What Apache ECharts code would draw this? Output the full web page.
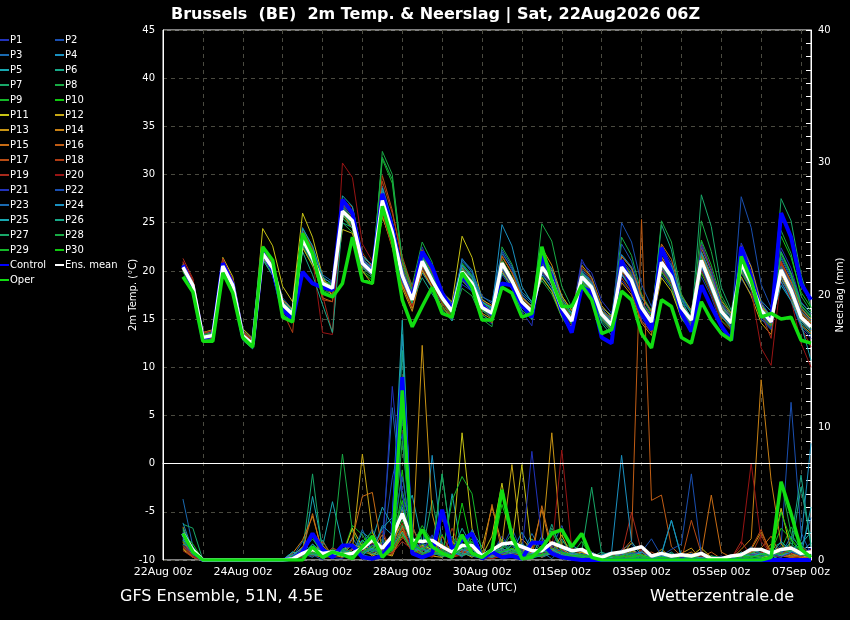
<!DOCTYPE html>
<html><head><meta charset="utf-8">
<script src="https://cdn.jsdelivr.net/npm/echarts@6/dist/echarts.min.js"></script>
<style>html,body{margin:0;padding:0;background:#000;}#c{width:850px;height:620px;}</style>
</head><body><div id="c"></div>
<script>
// forecast hours since 22Aug 00z
const HOURS = [12,18,24,30,36,42,48,54, 60,66,72,78,84,90,96,102, 108,114,120,126,132,138,144,150, 156,162,168,174,180,186,192,198, 204,210,216,222,228,234,240,246, 252,258,264,270,276,282,288,294, 300,306,312,318,324,330,336,342, 348,354,360,366,372,378,384,390];
const X_TICK_LABELS = ['22Aug 00z','24Aug 00z','26Aug 00z','28Aug 00z','30Aug 00z','01Sep 00z','03Sep 00z','05Sep 00z','07Sep 00z'];
const MEMBER_NAMES = ['P1','P2','P3','P4','P5','P6','P7','P8','P9','P10','P11','P12','P13','P14','P15','P16','P17','P18','P19','P20','P21','P22','P23','P24','P25','P26','P27','P28','P29','P30'];
const MEMBER_COLORS = ['#2233bb','#1a4fb0','#1a6ab0','#1a90c0','#18a8b0','#18a888','#18a868','#18aa44','#14b828','#10c810','#c8c414','#c8a814','#c89414','#c88014','#c86c14','#c05c14','#b84c14','#b03c14','#a82a1c','#981414','#2233bb','#1a4fb0','#1a6ab0','#1a90c0','#18a8b0','#18a888','#18a868','#18aa44','#14b828','#10c810'];

// 2m temperature (°C)
const T_P1 = [20.8,18.3,13.0,13.6,20.9,18.8,13.5,12.2, 22.4,20.6,16.2,15.1,24.0,22.1,18.3,17.5, 27.2,25.8,21.5,19.2,28.1,24.6,20.4,17.8, 22.5,19.9,17.0,14.8,18.6,17.9,15.2,14.5, 19.6,18.1,15.8,14.3,21.8,20.2,17.0,15.2, 21.2,19.3,15.8,14.2,19.0,17.8,14.9,13.6, 22.6,20.8,17.2,15.6,19.4,17.3,14.4,13.1, 22.9,20.5,16.8,15.2,18.8,16.9,14.1,13.0];
const T_P2 = [20.1,18.7,13.3,13.0,20.2,18.2,13.0,12.6, 21.3,19.9,16.9,15.9,22.6,20.8,19.2,18.8, 25.4,24.7,20.2,20.3,26.8,23.5,18.9,16.4, 20.2,18.3,16.6,15.9,21.3,19.8,17.4,16.6, 22.0,20.1,17.5,16.2,19.2,18.0,15.4,14.2, 18.2,17.4,14.9,14.6,22.8,21.0,17.3,15.5, 19.6,18.2,15.4,14.8,23.0,20.0,16.4,14.8, 19.2,17.6,15.4,14.9,21.5,19.4,16.2,15.0];
const T_P3 = [20.6,18.9,13.5,13.7,21.1,19.0,13.8,12.9, 22.0,20.9,17.2,16.0,24.5,22.5,19.3,18.0, 26.9,25.9,21.2,20.4,28.8,25.2,20.2,17.5, 21.6,19.6,17.9,16.5,20.7,19.6,17.1,16.2, 21.8,20.3,17.6,16.6,19.8,18.2,15.6,14.0, 20.2,18.9,15.7,14.8,21.6,20.2,16.9,15.1, 22.1,20.6,17.0,15.6,20.0,17.9,15.2,14.3, 19.8,18.0,15.0,13.9,21.3,19.2,16.3,15.4];
const T_P4 = [20.2,18.3,12.8,13.1,20.6,18.6,13.1,12.1, 21.5,20.1,16.0,15.3,23.8,21.8,18.9,18.4, 26.6,25.4,21.0,20.1,27.9,24.5,19.8,17.2, 19.8,18.2,16.8,15.4,21.2,20.1,16.8,16.0, 20.3,18.8,17.1,16.4,19.6,18.3,16.0,14.6, 20.0,18.7,16.1,15.0,21.7,20.4,17.2,15.9, 21.4,19.9,16.7,15.2,20.3,18.2,15.6,14.8, 21.8,19.6,16.9,15.8,18.9,17.0,14.3,13.3];
const T_P5 = [20.5,18.6,13.2,13.5,20.4,18.4,13.2,12.3, 21.9,20.4,16.8,15.9,23.6,21.6,18.6,17.9, 26.0,25.0,21.4,20.6,26.9,23.6,19.0,16.8, 21.4,19.2,17.5,16.0,20.4,19.2,16.6,15.9, 20.1,18.6,16.2,15.0,21.2,19.9,16.8,15.5, 19.8,18.8,16.2,15.4,20.1,18.6,15.6,14.0, 20.4,18.8,15.7,14.3,22.0,19.6,16.7,15.4, 21.4,19.3,16.2,14.6,19.4,17.5,14.6,13.7];
const T_P6 = [20.3,18.4,13.1,13.2,20.5,18.5,13.4,12.5, 21.6,20.0,16.3,15.0,22.8,20.9,17.9,17.4, 25.7,24.8,20.3,19.5,27.0,23.8,19.3,16.6, 20.6,18.8,16.9,15.6,19.5,18.4,15.9,15.1, 20.9,19.1,16.4,15.3,20.6,19.3,16.1,14.4, 18.6,17.6,14.6,13.3,20.8,19.6,16.6,14.8, 21.9,20.5,17.3,15.9,21.8,19.2,16.2,14.9, 20.2,18.3,15.6,14.4,20.6,18.6,15.8,14.7];
const T_P7 = [20.4,18.4,13.2,13.4,20.3,18.3,13.0,12.0, 21.7,20.2,16.6,15.7,23.0,21.0,18.8,18.5, 26.3,25.1,20.6,19.6,27.6,24.2,19.6,17.3, 21.2,19.1,17.3,16.1,19.7,18.5,16.0,15.4, 20.6,18.9,16.9,15.8,20.2,18.9,16.3,15.0, 19.2,18.0,15.2,14.1,20.5,19.1,16.4,14.9, 20.8,19.1,15.9,14.6,21.3,18.8,16.0,14.7, 20.9,18.8,16.0,14.8,20.0,17.9,15.1,14.0];
const T_P8 = [19.9,18.0,12.7,12.9,20.7,18.9,13.6,12.7, 21.2,19.6,16.0,15.2,22.9,21.7,18.5,18.1, 25.0,24.0,20.0,19.3,32.4,30.0,21.0,18.5, 23.0,20.9,16.4,15.0,18.2,17.4,15.0,14.2, 22.5,20.7,17.8,16.9,19.0,17.6,15.2,13.6, 19.0,18.1,15.8,15.2,23.5,21.6,17.6,15.8, 20.0,18.4,15.0,13.8,25.2,22.0,17.5,15.6, 20.5,18.5,15.8,14.6,24.2,21.8,17.4,15.8];
const T_P9 = [20.6,18.7,13.4,13.5,20.8,18.7,13.4,12.4, 22.1,20.5,16.7,15.6,23.5,21.5,19.0,18.6, 26.5,25.5,21.1,20.2,31.6,29.1,20.6,17.9, 21.9,19.8,17.6,16.2,20.2,18.9,16.4,15.5, 20.5,18.8,16.5,15.6,20.9,19.6,16.9,15.3, 19.6,18.5,15.9,14.9,19.8,18.4,15.3,14.0, 19.9,18.4,15.4,14.2,23.2,20.6,17.1,15.5, 20.1,18.2,15.3,14.1,21.8,19.6,16.4,15.2];
const T_P10 = [20.0,18.2,12.9,13.2,20.0,18.1,12.9,12.2, 21.4,19.8,16.1,15.3,22.5,20.5,18.0,17.6, 25.5,24.4,19.9,19.0,26.5,23.2,18.8,16.5, 20.8,18.7,16.8,15.3,20.8,19.5,16.7,16.1, 21.2,19.4,17.0,16.0,19.4,17.9,15.2,14.1, 19.5,18.2,15.3,14.2,21.0,19.7,16.8,15.4, 20.6,19.0,15.8,14.4,19.8,17.6,14.9,13.9, 20.4,18.3,15.5,14.4,20.4,18.3,15.6,14.6];
const T_P11 = [20.7,18.8,13.6,13.9,21.4,19.4,14.0,13.0, 24.4,22.6,18.4,16.8,26.0,23.5,19.5,17.2, 24.3,23.9,20.4,19.9,25.6,22.8,18.6,16.2, 20.4,18.6,17.8,16.8,23.6,21.4,17.0,16.4, 19.8,18.5,16.6,15.7,21.4,20.0,17.4,15.9, 18.9,17.9,15.1,14.0,19.6,18.3,15.4,14.3, 19.3,17.9,15.1,14.0,20.7,18.4,15.6,14.4, 22.0,19.9,16.5,14.9,19.6,17.6,14.8,13.9];
const T_P12 = [20.2,18.3,12.9,13.1,20.2,18.3,13.1,12.2, 21.4,19.9,16.4,15.6,22.4,20.6,18.3,17.9, 25.8,24.8,20.5,19.5,26.6,23.4,18.9,16.3, 20.0,18.3,16.2,15.1,19.2,18.2,15.6,15.0, 21.5,19.8,17.3,16.3,19.3,17.9,15.3,14.2, 20.6,19.3,16.4,15.2,20.2,18.8,15.8,14.2, 20.3,18.7,15.5,14.2,21.5,19.1,16.3,15.2, 19.4,17.4,14.6,13.4,20.9,18.9,16.1,15.0];
const T_P13 = [20.5,18.6,13.3,13.6,20.6,18.6,13.6,12.7, 22.2,20.7,17.0,16.0,23.9,21.9,19.1,18.3, 25.9,24.4,20.0,18.6,25.8,22.4,18.2,15.8, 20.1,18.4,17.0,15.9,20.3,19.0,16.6,15.8, 20.0,18.4,16.4,15.4,22.4,20.6,17.4,15.9, 19.7,18.6,15.6,14.3,18.8,17.5,14.6,13.3, 21.5,19.9,16.5,15.1,20.9,18.6,15.7,14.5, 22.6,20.4,16.6,15.1,19.2,17.3,14.4,13.5];
const T_P14 = [20.3,18.5,13.0,13.2,20.4,18.5,13.3,12.5, 21.8,20.2,16.4,15.4,23.2,21.4,18.6,18.0, 26.4,25.4,21.0,19.8,26.2,22.9,18.5,16.1, 20.5,18.7,17.4,16.3,19.8,18.8,16.3,15.7, 20.8,19.2,16.8,15.9,20.5,19.1,16.2,14.7, 19.3,18.2,15.4,14.6,20.6,19.4,16.7,15.2, 21.0,19.4,16.0,14.6,22.4,20.0,16.9,15.6, 21.1,19.1,16.3,15.0,19.8,17.7,14.9,13.8];
const T_P15 = [20.9,19.0,13.6,13.8,21.0,19.1,13.8,12.8, 22.3,20.7,16.3,15.0,23.7,21.2,17.2,16.8, 27.0,26.0,21.6,20.5,28.0,24.8,20.1,17.6, 21.3,19.3,17.6,16.4,20.0,18.6,16.1,15.3, 20.3,18.6,16.3,15.5,21.0,19.7,16.6,15.2, 19.4,18.4,15.8,15.0,21.5,20.3,17.4,15.7, 22.8,21.2,17.5,15.9,21.6,19.2,16.5,15.1, 21.2,19.0,15.9,14.5,20.3,18.2,15.4,14.4];
const T_P16 = [20.1,18.2,12.9,13.0,20.3,18.4,13.2,12.3, 21.7,20.1,16.7,15.8,22.9,21.2,18.7,18.3, 26.1,25.0,20.7,19.9,27.2,23.9,19.4,16.9, 21.0,18.9,17.1,15.7,20.1,18.8,16.3,15.6, 20.9,19.2,16.9,15.9,20.0,18.6,16.0,14.6, 19.1,17.9,15.0,13.9,20.0,18.6,15.6,14.5, 20.4,18.9,15.7,14.5,21.0,18.5,15.3,14.0, 20.6,18.6,16.1,15.1,20.8,18.7,15.7,14.6];
const T_P17 = [20.6,18.7,13.4,13.4,20.6,18.5,13.2,12.4, 21.9,20.4,16.5,15.4,23.4,21.4,18.4,17.6, 26.8,25.6,21.3,19.9,29.9,26.3,20.9,18.0, 22.2,20.2,16.6,15.2,19.0,18.0,15.5,14.6, 21.6,19.8,17.2,16.1,20.7,19.4,16.5,15.0, 19.9,18.8,15.9,14.9,20.3,18.9,16.0,14.6, 21.2,19.6,16.3,15.0,20.5,18.0,15.2,14.3, 20.0,18.1,15.3,14.3,21.0,18.8,15.9,14.8];
const T_P18 = [20.7,18.9,13.5,13.8,20.9,18.9,13.7,12.8, 22.3,20.6,15.8,13.6,24.1,22.3,17.0,16.8, 27.4,26.6,21.9,20.3,29.3,26.0,21.5,18.3, 21.8,19.8,17.7,16.2,19.6,18.5,16.0,15.2, 20.4,18.6,16.7,16.0,21.3,19.9,17.1,15.6, 20.4,19.1,16.2,14.8,19.3,17.8,14.8,13.6, 20.1,18.6,15.6,14.5,21.9,19.5,16.6,15.3, 19.9,18.2,15.4,14.2,20.6,18.5,15.6,14.5];
const T_P19 = [21.3,19.2,13.6,13.8,21.3,19.1,13.6,12.7, 22.6,21.0,16.9,15.6,24.2,22.4,17.5,13.5, 26.4,25.3,20.8,19.6,27.0,23.8,19.3,16.8, 20.7,18.7,17.1,15.9,19.9,18.7,16.2,15.7, 21.1,19.3,16.8,15.6,19.9,18.6,15.9,14.4, 19.6,18.4,15.3,14.3,20.9,19.6,16.4,15.0, 20.7,19.2,16.0,14.9,22.7,20.2,16.2,14.3, 21.5,19.4,15.6,13.0,21.0,18.3,14.2,12.1];
const T_P20 = [21.0,19.0,13.4,13.5,21.0,19.0,13.5,12.6, 22.0,20.5,16.6,15.4,23.0,21.3,13.6,13.4, 31.2,29.7,22.8,21.0,26.0,22.5,18.8,16.3, 20.4,18.5,16.7,15.5,20.5,19.3,16.9,16.3, 20.7,19.0,16.6,15.5,20.6,19.1,16.6,15.1, 19.2,18.0,15.0,13.8,19.8,18.4,15.5,14.2, 21.3,19.8,16.4,14.8,20.1,17.6,14.8,13.8, 21.8,18.0,12.0,10.2,19.5,17.0,12.5,10.0];
const T_P21 = [20.2,18.4,13.1,13.4,20.5,18.4,13.2,12.3, 21.6,20.0,16.5,15.6,23.1,21.1,18.5,18.0, 26.0,25.1,20.9,20.0,27.2,23.9,19.4,16.9, 20.9,18.9,17.2,15.9,19.5,18.4,16.1,15.6, 20.2,18.5,16.2,15.1,19.9,18.6,16.2,14.9, 20.9,19.8,16.9,15.6,21.2,19.9,16.8,15.0, 20.5,18.9,15.8,14.6,22.6,20.1,16.6,15.1, 20.3,18.4,15.2,14.0,22.4,20.3,16.8,15.6];
const T_P22 = [20.5,18.5,13.2,13.3,20.6,18.6,13.3,12.4, 21.7,20.1,16.4,15.3,23.2,21.3,18.8,18.3, 26.3,25.2,20.7,19.7,27.4,24.1,19.6,17.1, 21.1,19.1,17.3,15.9,20.0,18.8,16.3,15.7, 20.9,19.1,16.9,15.9,20.5,19.1,16.3,14.9, 19.6,18.5,15.6,14.5,25.0,23.0,18.6,16.3, 20.2,18.8,15.6,14.3,20.4,18.0,15.4,14.3, 27.7,24.5,18.6,16.2,20.0,17.9,15.0,13.9];
const T_P23 = [20.4,18.6,13.3,13.5,20.3,18.3,13.1,12.2, 22.0,20.5,16.8,15.8,24.0,22.0,19.6,18.9, 26.7,25.7,21.0,20.2,28.3,25.0,20.0,17.6, 21.5,19.5,17.8,16.6,21.0,19.9,17.3,16.8, 22.2,20.5,17.8,16.8,20.8,19.3,16.5,15.1, 19.9,18.9,16.1,15.0,19.6,18.1,15.2,13.8, 21.8,20.3,17.1,15.8,20.5,18.3,15.4,14.1, 21.0,18.9,16.0,14.9,20.5,18.6,15.8,14.9];
const T_P24 = [20.3,18.4,13.0,13.2,20.4,18.5,13.4,12.6, 21.9,20.3,16.6,15.6,23.5,21.6,18.7,18.1, 26.4,25.3,21.2,20.3,26.4,23.1,18.9,16.7, 21.2,19.3,17.6,16.3,20.6,19.4,16.8,16.1, 24.8,22.6,18.4,16.7,20.3,18.9,16.3,15.0, 19.1,18.0,15.1,14.1,19.7,18.2,15.6,14.6, 20.6,19.1,16.1,14.9,20.8,18.4,15.9,14.7, 20.7,18.8,16.1,15.2,19.3,17.4,14.8,13.9];
const T_P25 = [20.4,18.5,13.1,13.4,20.5,18.5,13.3,12.4, 21.8,20.2,16.5,15.5,24.4,22.6,19.4,18.6, 27.8,26.7,21.6,20.6,28.6,25.0,19.5,17.0, 21.3,19.2,17.5,16.2,20.6,19.3,16.8,16.2, 20.6,19.0,16.6,15.6,21.6,20.2,17.2,15.6, 19.8,18.7,15.8,14.8,20.5,19.1,16.3,14.8, 21.1,19.6,16.3,15.0,21.9,19.4,16.4,15.2, 21.2,19.2,16.1,14.8,18.5,16.9,14.5,10.7];
const T_P26 = [20.2,18.2,12.7,12.9,20.2,18.2,12.8,11.9, 21.2,19.5,15.5,14.8,22.0,19.6,16.5,13.6, 25.0,24.5,20.6,20.0,26.6,23.5,19.3,16.9, 19.3,17.6,16.0,14.8,19.0,17.9,15.4,14.8, 19.8,18.3,15.9,15.0,20.1,18.8,16.0,14.6, 18.8,17.7,14.8,13.7,20.8,19.5,16.5,14.8, 24.8,22.2,17.0,15.0,20.8,18.0,15.3,14.2, 21.4,19.4,16.5,15.3,22.0,19.8,16.7,15.6];
const T_P27 = [20.6,18.8,13.4,13.5,20.6,18.6,13.3,12.4, 22.1,20.6,16.8,15.8,23.4,21.4,18.9,18.4, 25.8,24.9,20.6,19.8,27.5,24.4,19.7,17.2, 20.6,18.8,17.0,15.6,20.2,19.0,16.4,15.7, 20.4,18.7,16.5,15.6,21.0,19.6,16.5,15.0, 19.8,18.4,15.4,14.3,20.6,19.2,16.3,14.9, 20.6,19.0,15.8,14.5,27.9,24.6,18.3,15.9, 20.9,18.9,16.1,14.9,27.5,25.2,19.6,16.2];
const T_P28 = [20.5,18.6,13.2,13.3,20.5,18.4,13.1,12.2, 21.8,20.3,16.5,15.6,23.1,21.1,18.6,18.2, 25.9,24.9,20.5,19.6,31.8,29.5,21.2,18.0, 21.6,19.6,17.3,15.7,19.6,18.4,16.0,15.3, 21.0,19.2,16.6,15.4,24.9,23.1,18.4,16.2, 19.0,17.8,15.0,13.9,20.2,18.7,15.9,14.6, 25.2,23.0,17.6,15.6,21.3,18.9,16.0,14.7, 20.0,18.1,15.4,14.3,21.9,19.7,16.5,15.3];
const T_P29 = [20.4,18.5,13.1,13.3,20.4,18.4,13.1,12.2, 21.6,20.0,16.3,15.4,23.0,21.0,18.3,17.8, 26.0,25.0,20.7,19.7,27.0,23.7,19.2,16.8, 20.7,18.7,16.9,15.5,19.7,18.6,16.0,15.4, 20.6,18.9,16.7,15.7,20.3,18.9,16.0,14.5, 19.3,18.3,15.6,14.6,20.4,19.0,16.2,14.7, 20.7,19.1,16.0,14.8,21.0,18.4,15.6,14.5, 20.5,18.5,15.7,14.6,19.8,17.8,15.0,14.1];
const T_P30 = [20.6,18.7,13.3,13.5,20.6,18.6,13.4,12.5, 22.0,20.4,16.6,15.6,23.4,21.4,18.8,18.3, 26.3,25.3,20.9,19.9,27.4,24.1,19.6,17.1, 21.1,19.1,17.3,15.9,20.0,18.8,16.3,15.7, 20.9,19.1,16.9,15.9,20.5,19.1,16.3,14.9, 19.5,18.4,15.6,14.5,20.5,19.1,16.3,14.8, 21.0,19.5,16.3,15.0,21.2,18.6,15.9,14.7, 20.9,18.8,16.0,14.8,23.6,21.4,17.8,16.2];
const T_CONTROL = [20.6,18.3,13.0,13.3,20.8,18.6,13.2,12.3, 21.9,20.1,16.0,15.0,19.9,18.7,18.3,18.0, 27.4,26.0,20.8,19.8,28.0,24.5,19.4,17.2, 22.0,20.4,17.7,16.0,19.5,18.2,16.4,15.5, 18.7,18.5,16.5,15.2,21.5,19.4,15.8,13.6, 18.3,17.8,13.1,12.5,21.1,18.3,15.6,13.9, 22.4,19.8,15.6,13.7,18.5,16.3,14.3,12.8, 22.5,19.4,15.8,14.7,26.0,23.5,18.7,17.0];
const T_OPER = [19.4,17.8,12.7,12.7,19.8,17.7,13.1,12.1, 22.5,21.1,15.2,14.7,23.9,21.8,17.7,17.3, 18.7,23.5,19.0,18.7,26.7,23.2,17.0,14.2, 16.3,18.3,15.6,15.2,19.8,18.3,14.9,14.9, 18.3,17.7,15.2,15.6,22.5,19.0,16.3,16.3, 18.5,17.0,13.5,13.9,17.9,17.0,13.5,12.0, 17.0,16.3,13.1,12.5,16.8,14.9,13.5,12.8, 21.5,19.0,15.2,15.6,15.0,15.2,12.8,12.5];
const T_MEAN = [20.4,18.5,13.1,13.3,20.5,18.5,13.3,12.4, 21.8,20.3,16.5,15.5,23.3,21.3,18.7,18.2, 26.2,25.2,20.8,19.8,27.3,24.0,19.5,17.0, 21.0,19.0,17.2,15.8,19.9,18.7,16.2,15.6, 20.8,19.0,16.8,15.8,20.4,19.0,16.2,14.8, 19.4,18.3,15.5,14.4,20.4,19.0,16.2,14.7, 20.9,19.4,16.2,14.9,21.1,18.5,15.8,14.6, 20.8,18.7,15.9,14.7,20.1,18.0,15.2,14.2];

// precipitation (mm, right axis)
const R_P1 = [1.2,0.3,0,0,0,0,0,0, 0,0,0,0,0.4,1.2,0.6,0.2, 0.1,0.8,1.5,0.6,0.2,2.1,4.2,0.6, 0.8,1.9,0.4,0.1,0.9,1.6,0.2,0.5, 1.8,0.7,0.3,0.2,1.0,2.1,0.8,0.1, 0.4,0,0,0.2,0.6,0.3,0.1,0, 0.2,0.5,0,0,0.3,0,0,0.4, 0.1,0.3,0.8,0,0.2,0.9,0.3,0.1];
const R_P2 = [1.8,0.5,0,0,0,0,0,0, 0,0,0,0.3,0.9,0.4,0,0.6, 0.3,0.2,1.1,2.3,0.8,6.2,9.5,0.9, 2.2,0.6,0.3,0.8,0.2,1.4,0,0.3, 0.9,2.4,0.6,0.1,0.4,0.9,2.6,0.7, 0.2,0.5,0,0,0.3,0.8,0.2,0, 0,0.3,0.1,0,0.6,0,0,0.2, 0,0.5,0.2,0.4,1.1,11.9,2.1,0.4];
const R_P3 = [4.6,1.0,0,0,0,0,0,0, 0,0,0,0.2,1.4,0.5,0.3,0.9, 0.5,1.7,0.4,0.2,1.3,11.5,4.8,2.6, 0.8,1.2,0.5,1.8,0.7,0.3,0.1,0.6, 1.5,0.3,0.4,2.0,0.6,0.1,0.9,0.3, 0.5,0.2,0.1,0,0.8,1.2,0.4,0, 0.3,0,0.2,0.5,0,0.1,0,0, 0.4,0,0.2,0.6,0.3,0.8,1.1,0.5];
const R_P4 = [2.3,0.6,0,0,0,0,0,0, 0,0,0,0.1,0.3,1.9,0.4,0.2, 0.8,0.5,1.2,0.6,2.6,1.9,17.0,1.4, 0.6,7.9,1.1,0.4,0.3,2.2,1.0,0.2, 0.4,0.6,2.1,0.8,0.2,0.5,0.3,1.1, 0.7,0.1,0,0.3,0.6,0.2,0,0.1, 0,0.2,0.5,0.1,0,0,0.2,0, 0.3,0.7,0.1,0,0.4,0.2,0.6,1.3];
const R_P5 = [1.5,0.4,0,0,0,0,0,0, 0,0,0,0.6,0.2,4.8,1.0,4.4, 1.2,0.4,2.1,1.5,4.0,2.6,3.1,4.9, 1.3,0.7,0.2,5.0,0.6,1.1,0.4,0.2, 0.6,1.1,0.4,0.3,1.8,0.5,1.6,0.4, 0.2,0.4,0.1,0.6,0.3,0.9,0.3,0, 0.4,3.0,0.2,0,0.1,0,0,0, 0.2,0.5,0.8,0.3,0.6,0.4,1.2,2.1];
const R_P6 = [1.9,0.7,0,0,0,0,0,0, 0,0,0,0.2,0.8,0.3,1.5,0.2, 0.6,0.3,0.9,1.6,0.4,1.7,15.8,0.8, 0.4,1.0,0.2,0.6,2.4,1.0,0.3,0.5, 0.3,0.9,0.4,1.6,0.4,2.7,0.6,0.2, 0.4,0.3,0,0.1,0.5,0.2,0.3,0, 0,0.1,0,0.4,0,0.2,0,0, 0.3,0.1,0.2,0,0.5,1.4,6.4,1.0];
const R_P7 = [2.7,2.4,0,0,0,0,0,0, 0,0,0,0.4,0.6,6.5,0.5,0.3, 0.8,0.6,0.3,1.1,0.9,2.0,2.4,1.4, 0.6,4.5,0.8,0.3,1.3,0.4,0.2,0.5, 1.6,0.5,1.3,0.4,0.5,2.4,0.9,0.3, 0.6,5.5,0.5,0.2,0.1,0.4,0.6,0.3, 0.1,0,0.3,0,0.2,0,0,0, 0.3,0.4,0.2,0.9,1.3,0.6,0.2,0.4];
const R_P8 = [1.0,0.3,0,0,0,0,0,0, 0,0,0,0,0.3,0.7,0.2,0.5, 8.0,2.2,0.6,0.4,1.6,0.8,5.2,2.3, 1.4,0.3,6.5,0.8,0.4,0.9,0.3,0.2, 0.9,2.0,0.5,0.7,0.8,0.4,1.4,0.9, 0.3,0.2,0.4,0,0.2,0.3,0,0.2, 0,0.5,0.1,0,0,0.3,0.1,0, 0.2,0.6,0.9,0.2,0.4,0.3,0.8,0.5];
const R_P9 = [2.2,0.9,0,0,0,0,0,0, 0,0,0,0.2,0.6,1.8,0.3,0.8, 0.4,2.6,1.9,0.7,0.3,1.2,3.0,1.1, 2.6,1.4,0.5,1.1,0.8,1.6,0.2,0.9, 0.5,1.2,0.8,0.3,1.1,0.6,0.3,0.4, 1.4,0.2,0,0.3,0.2,0.1,0.4,0, 0.3,0,0.2,0.1,0,0,0,0.2, 0,0.3,0.5,0.1,0.8,2.5,1.1,0.4];
const R_P10 = [2.0,1.2,0,0,0,0,0,0, 0,0,0,0,0.5,0.3,0.9,0.3, 0.7,0.2,1.4,2.1,0.6,0.9,6.8,0.4, 1.2,0.6,1.9,0.3,4.3,0.9,0.1,0.4, 4.2,1.8,0.6,0.4,0.9,1.3,0.5,0.2, 0.4,0.6,0,0.1,0.3,0.5,0.2,0.1, 0.2,0,0,0.3,0.1,0,0.2,0, 0.5,0.2,0.3,0.6,2.4,1.6,0.7,0.3];
const R_P11 = [0.8,0.2,0,0,0,0,0,0, 0,0,0,0.3,0.4,0.9,0.2,0.6, 0.3,2.4,1.0,0.4,0.8,1.5,2.7,0.5, 1.1,0.8,0.4,0.6,9.6,2.4,0.3,1.8, 5.8,1.2,7.2,0.7,0.3,0.8,0.5,0.2, 0.6,0.3,0.1,0.2,0.5,0.8,0.3,0.1, 0.2,0.1,0,0.3,0.9,0.2,0,0, 0.1,0.4,0.2,0.3,3.9,0.7,0.3,0.2];
const R_P12 = [1.3,0.5,0,0,0,0,0,0, 0,0,0,0.1,0.3,0.6,1.1,0.4, 0.2,0.8,8.0,2.1,0.5,0.3,2.2,0.9, 0.6,0.3,0.2,1.4,0.6,0.2,0.9,4.0, 1.2,7.2,0.8,0.5,0.4,0.6,1.9,0.3, 0.2,0.4,0,0,0.3,1.3,0.6,0.2, 0.8,0.2,0.3,0,0.1,0.3,0,0, 0.2,0.6,0.4,1.2,0.5,0.3,0.2,0.7];
const R_P13 = [1.6,0.4,0,0,0,0,0,0, 0,0,0,0.3,1.0,0.4,0.2,0.3, 0.4,1.2,0.9,0.3,0.6,1.8,2.0,0.7, 16.2,3.5,0.4,0.2,1.0,0.6,0.1,0.3, 0.4,0.8,0.6,0.3,1.1,9.6,0.8,0.4, 0.6,0.2,0.2,0.4,0.3,0.6,0.3,0, 0,0.2,0.5,0.9,0,0.2,0.1,0, 0.3,0.8,2.1,0.6,0.9,0.4,0.3,0.6];
const R_P14 = [2.5,0.6,0,0,0,0,0,0, 0,0,0,0.5,1.5,3.3,0.6,0.2, 0.6,0.4,1.1,0.8,1.9,0.6,3.8,1.2, 0.7,1.5,0.6,0.3,0.8,0.5,0.3,0.4, 0.9,0.4,1.6,0.8,3.8,0.6,0.2,0.4, 0.3,0.6,0.2,0,0.1,0.7,0.3,0.4, 0.1,0,0.3,0.6,0,0.2,0,0.1, 0.8,1.6,13.6,6.0,1.2,0.5,0.2,0.1];
const R_P15 = [1.4,0.3,0,0,0,0,0,0, 0,0,0,0.2,0.8,3.5,0.4,0.6, 0.3,1.6,4.8,5.1,0.7,0.5,2.5,0.8, 0.5,0.9,1.2,0.4,0.6,0.8,0.2,4.2, 0.6,0.3,0.5,0.2,4.1,0.9,0.6,0.3, 0.2,0.5,0.3,0.1,0.4,0.6,0.2,0, 0,0.3,0.1,0,0.4,4.9,0.6,0.2, 0.4,0.6,0.9,1.8,0.3,0.2,0.4,0.6];
const R_P16 = [1.1,0.2,0,0,0,0,0,0, 0,0,0,0.1,0.4,0.9,0.3,0.2, 0.6,0.3,1.0,1.6,0.5,0.4,1.8,0.6, 1.0,0.7,0.5,0.3,0.4,1.2,0.3,0.2, 0.5,0.9,0.3,0.6,0.2,0.8,0.4,0.2, 0.3,0.2,0,0.1,0.6,1.5,25.7,4.5, 4.9,1.0,0.3,0,0.2,0.6,0.1,0, 0.3,0.5,0.2,0.9,0.4,0.2,0.1,0.3];
const R_P17 = [0.9,0.2,0,0,0,0,0,0, 0,0,0,0.2,0.3,0.5,1.4,0.3, 0.5,0.3,0.8,1.3,0.4,0.6,2.4,0.6, 0.8,0.3,0.6,0.2,0.4,0.9,0.3,0.1, 0.3,0.6,0.9,0.4,0.6,1.4,0.5,0.2, 0.4,0.3,0.2,0,0.1,0.3,0.4,0.6, 0.2,0.1,0,3.0,0.5,0,0.1,0.2, 0.3,0.9,2.3,0.4,0.6,0.2,0.3,0.4];
const R_P18 = [1.3,0.4,0,0,0,0,0,0, 0,0,0,0.3,0.2,0.8,0.3,0.9, 0.6,0.8,0.5,1.9,0.4,0.8,1.6,2.6, 0.6,0.3,1.8,0.5,0.7,0.4,0.2,0.5, 0.8,0.3,0.6,0.4,0.3,0.5,0.8,0.2, 0.3,0.6,0.1,0,0.2,0.4,0.7,0.2, 0.1,0,0.2,0.4,0,0.1,0.3,0, 0.6,0.4,1.9,0.3,0.5,0.8,0.2,0.6];
const R_P19 = [0.7,0.2,0,0,0,0,0,0, 0,0,0,0.1,0.3,0.6,0.2,0.4, 0.3,0.5,0.6,0.9,2.2,0.5,1.4,0.8, 0.4,0.6,0.3,2.4,0.5,0.8,0.3,0.2, 0.3,0.5,0.4,0.2,0.7,0.4,0.6,0.3, 0.2,0.5,0.3,0.6,0.4,3.6,0.6,0.1, 0.3,0.1,0.5,0,0,0.2,0,0.1, 1.4,0.3,0.6,0.2,0.8,0.4,1.0,0.5];
const R_P20 = [1.0,0.3,0,0,0,0,0,0, 0,0,0,0.2,0.4,0.3,0.6,0.2, 0.4,0.2,0.7,0.5,1.1,0.9,2.8,0.6, 0.5,0.2,0.9,0.4,0.3,0.6,0.2,0.1, 0.4,0.2,0.6,0.3,0.5,0.7,8.3,0.9, 0.3,0.2,0.1,0.4,0.2,0.5,0.3,0, 0.1,0.4,0.2,0,0.3,0,0.2,0.1, 1.1,7.3,1.4,0.4,0.2,0.6,0.3,0.8];
const R_P21 = [1.7,0.5,0,0,0,0,0,0, 0,0,0,0.4,0.6,0.8,0.4,0.2, 0.9,0.3,0.5,1.2,0.6,13.1,5.0,0.8, 1.3,0.4,0.8,0.3,0.9,1.0,0.3,0.5, 0.8,0.6,0.5,8.2,1.6,0.4,0.7,0.3, 0.4,0.2,0,0.3,0.1,0.5,0.6,0.2, 0.3,0,0.2,0.1,0,0,0.3,0, 0.2,0.4,0.3,0.5,0.2,0.6,0.4,0.9];
const R_P22 = [2.1,0.6,0,0,0,0,0,0, 0,0,0,0.2,0.3,0.4,0.7,0.5, 0.4,0.9,0.6,0.8,0.3,2.0,6.3,1.7, 0.7,1.8,0.4,0.3,1.2,0.6,0.2,0.8, 0.6,0.4,0.9,0.6,0.3,1.1,0.4,0.3, 0.2,0.1,0.3,0,0.2,0.4,0.6,1.6, 0.3,0.8,1.2,6.5,0.4,0,0.1,0.2, 0.1,0.3,0.5,0.2,0.6,0.9,0.4,0.3];
const R_P23 = [1.5,0.4,0,0,0,0,0,0, 0,0,0,0.3,0.5,0.2,0.8,0.6, 0.5,0.4,2.3,0.6,1.0,0.7,11.0,0.9, 0.8,0.5,0.3,0.6,0.4,2.3,0.4,0.2, 0.5,0.3,0.2,0.8,0.4,0.6,0.9,0.5, 0.3,0.6,0.2,0.1,0.4,0.5,0.2,0, 0.2,0.1,0,0.3,0.5,0.1,0,0, 0.4,1.0,0.3,0.6,0.4,1.8,0.9,3.2];
const R_P24 = [2.8,0.7,0,0,0,0,0,0, 0,0,0,0.4,0.9,0.5,0.3,0.7, 0.6,1.2,0.4,0.9,0.5,1.1,4.0,0.6, 0.9,0.4,0.6,0.3,0.8,0.5,0.2,0.4, 0.7,0.5,1.2,0.3,0.4,0.6,0.3,0.5, 0.3,0.2,0.4,0.6,7.9,1.4,0.3,0.1, 0.5,3.0,0.3,0.1,0.2,0,0.2,0.1, 0.3,0.5,0.4,0.8,0.3,0.6,1.5,8.8];
const R_P25 = [1.6,0.5,0,0,0,0,0,0, 0,0,0,0.6,0.4,1.2,0.5,0.3, 0.7,0.5,1.5,0.8,2.4,3.2,18.1,1.2, 0.5,0.9,0.4,0.6,0.3,0.8,0.2,0.6, 0.9,0.4,0.3,0.5,0.6,0.8,0.4,0.3, 0.2,0.4,0.1,0.2,0.5,0.3,0.6,0.1, 0.3,0.2,0,0.4,0.1,0.2,0,0, 0.6,0.2,0.5,0.4,1.4,0.7,0.3,4.0];
const R_P26 = [1.2,0.9,0,0,0,0,0,0, 0,0,0,0.1,0.6,0.4,0.3,0.5, 0.6,0.4,0.8,0.5,0.3,1.0,2.1,0.7, 0.9,0.6,0.4,0.8,0.5,0.3,0.4,0.2, 0.6,0.8,0.4,0.2,0.3,0.5,0.6,0.4, 0.3,0.2,0.6,0.3,0.1,0.2,0.4,0, 0.2,0.6,0,0.1,0,0.3,0.2,0, 0.4,0.3,0.2,0.5,0.8,0.6,5.5,1.2];
const R_P27 = [2.4,0.8,0,0,0,0,0,0, 0,0,0,0.3,0.7,1.6,0.5,0.3, 0.8,0.4,1.0,0.6,1.4,0.9,2.6,1.8, 0.5,0.7,6.5,0.9,0.3,0.6,0.5,0.4, 1.1,0.6,0.4,0.3,0.8,0.5,0.3,0.6, 0.4,0.2,0,0.3,0.2,0.4,0.1,0.3, 0.2,0,0.3,0.1,0.4,0,0,0.1, 0.2,0.8,0.5,0.3,0.6,1.3,0.4,0.2];
const R_P28 = [1.8,0.6,0,0,0,0,0,0, 0,0,0,0.2,0.4,0.6,0.3,0.2, 0.9,0.6,0.5,1.1,0.4,0.8,9.0,1.3, 0.6,0.4,0.8,0.3,1.0,0.6,0.4,0.5, 0.8,1.5,0.6,0.4,0.3,0.9,0.5,0.2, 0.3,0.4,0.2,0.1,0.3,0.6,0.2,0, 0.1,0.3,0,0.2,0.1,0,0.2,0, 0.3,0.5,0.9,0.4,5.9,2.0,0.8,0.3];
const R_P29 = [1.4,0.7,0,0,0,0,0,0, 0,0,0,0.1,0.3,0.5,0.4,0.2, 0.5,0.3,0.6,1.0,0.2,0.7,1.9,0.8, 0.4,0.6,0.3,4.5,6.3,5.0,0.4,0.6, 0.3,0.7,0.5,0.2,0.4,0.6,0.3,0.2, 0.2,0.1,0,0.3,0.2,0.4,0.3,0, 0.2,0.1,0,0.1,0,0.2,0,0, 0.1,0.3,0.2,0.6,0.4,0.8,0.5,0.4];
const R_P30 = [2.0,0.8,0,0,0,0,0,0, 0,0,0,0.3,0.4,0.9,0.6,0.3, 0.6,0.5,0.8,1.6,0.5,1.3,4.5,1.1, 0.8,1.2,0.5,0.3,0.9,1.4,0.3,0.5, 0.6,0.9,0.5,0.3,0.4,2.2,0.6,0.3, 0.4,0.2,0.3,0,0.3,0.2,0.4,0.1, 0.2,0,0.3,0.2,0,0.1,0,0, 0.3,0.2,0.4,0.6,3.6,1.5,0.6,0.3];
const R_CONTROL = [2.0,0.6,0,0,0,0,0,0, 0,0,0,0.1,0.6,2.0,0.8,0.2, 1.1,1.1,0.2,0.1,0.3,1.5,13.8,0.5, 0.2,0.5,3.8,0.8,1.5,2.0,0.1,0.6, 0.2,0.3,0.1,1.3,1.3,0.5,0.2,0.1, 0,0,0,0,0,0,0,0, 0,0,0,0,0,0,0,0, 0,0,0,0,0,0,0,0];
const R_OPER = [2.0,0.6,0,0,0,0,0,0, 0,0,0,0,0,1.0,0.2,0.6, 0.4,0.1,1.0,1.8,0.2,1.0,12.8,0.8, 2.3,1.0,0.5,0.2,1.9,0.5,0.2,0.8, 5.3,1.8,0.1,0.2,0.9,2.0,2.3,1.0, 2.0,0.2,0,0,0,0,0,0, 0,0,0,0,0,0,0,0, 0,0,0,0.2,5.9,3.5,0.8,0.2];
const R_MEAN = [2.0,0.75,0,0,0,0,0,0, 0,0,0,0.1,0.5,0.8,0.5,0.6, 0.4,0.5,0.9,1.5,0.9,1.8,3.5,1.5, 1.4,1.5,1.0,0.6,1.1,1.1,0.3,0.75, 1.2,1.3,1.0,0.7,0.7,1.3,1.0,0.7, 0.8,0.4,0.2,0.5,0.6,0.8,1.0,0.3, 0.5,0.3,0.4,0.3,0.5,0.1,0.1,0.3, 0.4,0.8,0.8,0.5,0.8,0.9,0.5,0.6];

const MEMBER_T = [T_P1,T_P2,T_P3,T_P4,T_P5,T_P6,T_P7,T_P8,T_P9,T_P10,T_P11,T_P12,T_P13,T_P14,T_P15,T_P16,T_P17,T_P18,T_P19,T_P20,T_P21,T_P22,T_P23,T_P24,T_P25,T_P26,T_P27,T_P28,T_P29,T_P30];
const MEMBER_R = [R_P1,R_P2,R_P3,R_P4,R_P5,R_P6,R_P7,R_P8,R_P9,R_P10,R_P11,R_P12,R_P13,R_P14,R_P15,R_P16,R_P17,R_P18,R_P19,R_P20,R_P21,R_P22,R_P23,R_P24,R_P25,R_P26,R_P27,R_P28,R_P29,R_P30];

const FONT = 'DejaVu Sans';
function pts(arr){ return HOURS.map((h,i)=>[h, arr[i]]); }
function lineSeries(name, arr, axis, color, width){
  return {name, type:'line', yAxisIndex:axis, data:pts(arr), showSymbol:false, symbol:'none',
    lineStyle:{width, color}, itemStyle:{color}, silent:true, animation:false, emphasis:{disabled:true}};
}
const series = [];
for (let k=0;k<30;k++){
  series.push(lineSeries(MEMBER_NAMES[k], MEMBER_T[k], 0, MEMBER_COLORS[k], 1));
  series.push(lineSeries(MEMBER_NAMES[k], MEMBER_R[k], 1, MEMBER_COLORS[k], 1));
}
series[0].markLine = {silent:true, symbol:'none', animation:false, label:{show:false},
  lineStyle:{color:'#ffffff', width:1, type:'solid'}, data:[{yAxis:0}]};
series.push(lineSeries('Control', T_CONTROL, 0, '#0000ff', 4));
series.push(lineSeries('Control', R_CONTROL, 1, '#0000ff', 4));
series.push(lineSeries('Ens. mean', T_MEAN, 0, '#ffffff', 3.5));
series.push(lineSeries('Ens. mean', R_MEAN, 1, '#ffffff', 3.5));
series.push(lineSeries('Oper', T_OPER, 0, '#11dd11', 3.5));
series.push(lineSeries('Oper', R_OPER, 1, '#11dd11', 3.5));

const legendBase = {orient:'vertical', top:34, itemGap:3, itemWidth:9, itemHeight:2, icon:'rect',
  selectedMode:false, padding:0, textStyle:{color:'#ffffff', fontSize:10, fontFamily:FONT, lineHeight:12, padding:[0,0,0,-4]}};
const col1 = MEMBER_NAMES.filter((n,i)=>i%2===0).concat(['Control','Oper']);
const col2 = MEMBER_NAMES.filter((n,i)=>i%2===1).concat(['Ens. mean']);

const option = {
  backgroundColor:'#000000',
  animation:false,
  title:{text:'Brussels  (BE)  2m Temp. & Neerslag | Sat, 22Aug2026 06Z', left:166, top:2,
    textStyle:{color:'#ffffff', fontSize:16, fontWeight:'bold', fontFamily:FONT}},
  legend:[Object.assign({left:0, data:col1}, legendBase), Object.assign({left:55, data:col2}, legendBase)],
  grid:{left:163, right:39, top:30, bottom:60, show:true, borderColor:'#ffffff', borderWidth:1,
    backgroundColor:'transparent', containLabel:false, outerBoundsMode:'none'},
  xAxis:{type:'value', min:0, max:390, interval:24,
    name:'Date (UTC)', nameLocation:'middle', nameGap:23, nameMoveOverlap:false,
    nameTextStyle:{color:'#ffffff', fontSize:11, fontFamily:FONT},
    axisLine:{lineStyle:{color:'#ffffff'}}, axisTick:{show:false},
    axisLabel:{color:'#ffffff', fontSize:11, fontFamily:FONT, margin:7, hideOverlap:false,
      formatter:v => (v % 48 === 0 && v <= 384) ? X_TICK_LABELS[v/48] : ''},
    splitLine:{show:true, lineStyle:{color:'#4a4a40', type:[4,4], width:1}}},
  yAxis:[
    {type:'value', min:-10, max:45, interval:5, position:'left',
      name:'2m Temp. (°C)', nameLocation:'middle', nameGap:25, nameRotate:90, nameMoveOverlap:false,
      nameTextStyle:{color:'#ffffff', fontSize:10, fontFamily:FONT},
      axisLine:{show:true, lineStyle:{color:'#ffffff'}}, axisTick:{show:false},
      axisLabel:{color:'#ffffff', fontSize:10, fontFamily:FONT, margin:8},
      splitLine:{show:true, lineStyle:{color:'#4a4a40', type:[4,4], width:1}}},
    {type:'value', min:0, max:40, interval:10, position:'right',
      name:'Neerslag (mm)', nameLocation:'middle', nameGap:24, nameRotate:90, nameMoveOverlap:false,
      nameTextStyle:{color:'#ffffff', fontSize:10, fontFamily:FONT},
      axisLine:{show:true, lineStyle:{color:'#ffffff'}},
      axisTick:{show:true, inside:true, length:5, lineStyle:{color:'#ffffff'}},
      minorTick:{show:true, splitNumber:10, length:5, lineStyle:{color:'#ffffff'}},
      axisLabel:{color:'#ffffff', fontSize:10, fontFamily:FONT, margin:7},
      splitLine:{show:false}}
  ],
  graphic:[
    {type:'text', left:120, top:589, style:{text:'GFS Ensemble, 51N, 4.5E', fill:'#ffffff', font:'16px "DejaVu Sans"'}},
    {type:'text', left:650, top:589, style:{text:'Wetterzentrale.de', fill:'#ffffff', font:'16px "DejaVu Sans"'}}
  ],
  series
};
const chart = echarts.init(document.getElementById('c'), null, {renderer:'canvas'});
chart.setOption(option);
</script>
</body></html>
